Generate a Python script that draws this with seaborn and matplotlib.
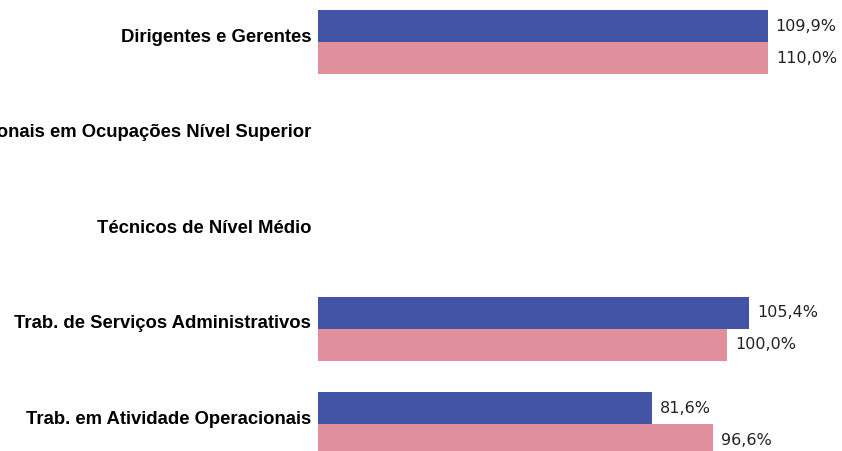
import pandas as pd
import matplotlib
matplotlib.use('Agg')
import matplotlib.pyplot as plt
import matplotlib.transforms as mtransforms
import seaborn as sns

# --- chart data ---
categories = [
    'Dirigentes e Gerentes',
    'Profissionais em Ocupações Nível Superior',
    'Técnicos de Nível Médio',
    'Trab. de Serviços Administrativos',
    'Trab. em Atividade Operacionais',
]
series_names = ['Série 1', 'Série 2']
serie_1 = [109.9, None, None, 105.4, 81.6]
serie_2 = [110.0, None, None, 100.0, 96.6]
colors = ['#4353A6', '#E08F9D']


def build_frame():
    rows = []
    for name, values in zip(series_names, [serie_1, serie_2]):
        for cat, val in zip(categories, values):
            rows.append({'categoria': cat, 'serie': name, 'valor': val})
    return pd.DataFrame(rows)


def main():
    df = build_frame()
    sns.set_style('white')
    plt.rcParams['font.family'] = ['Liberation Sans', 'DejaVu Sans']

    fig = plt.figure(figsize=(8.42, 4.51), dpi=100)
    ax = fig.add_axes([318 / 842, 0, 524 / 842, 1])

    sns.barplot(data=df, y='categoria', x='valor', hue='serie', order=categories,
                hue_order=series_names, palette=colors, saturation=1, width=0.67,
                linewidth=0, orient='h', ax=ax, legend=False)

    # value labels with decimal comma
    for cont in ax.containers:
        ax.bar_label(cont, fmt=lambda v: f"{v:.1f}%".replace('.', ','),
                     padding=5.5, fontsize=11.5, family='DejaVu Sans', color='#222222')

    ax.set_xlim(0, 128)
    ax.set_ylim(4.28, -0.44)
    ax.set_xlabel('')
    ax.set_ylabel('')
    ax.set_xticks([])
    sns.despine(ax=ax, left=True, bottom=True)
    ax.tick_params(axis='y', length=0, pad=5)
    offset = mtransforms.ScaledTranslation(0, 7 / 100, fig.dpi_scale_trans)
    for lbl in ax.get_yticklabels():
        lbl.set_fontweight('bold')
        lbl.set_fontsize(13.3)
        lbl.set_color('black')
        lbl.set_transform(lbl.get_transform() + offset)

    fig.savefig('out.png', dpi=100)
    plt.close(fig)


if __name__ == '__main__':
    main()
